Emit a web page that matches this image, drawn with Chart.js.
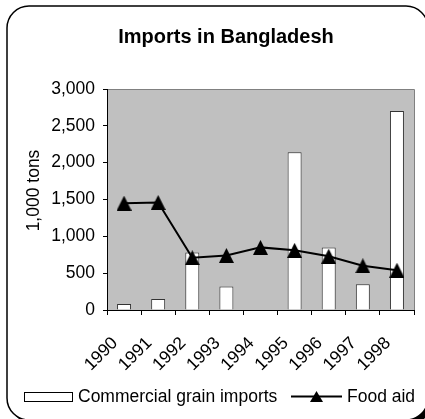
<!DOCTYPE html>
<html>
<head>
<meta charset="utf-8">
<title>Imports in Bangladesh</title>
<script src="https://cdn.jsdelivr.net/npm/chart.js@4"></script>
<style>
    html, body { margin: 0; padding: 0; background: #fff; }
    canvas { display: block; }
</style>
</head>
<body>
<canvas id="importsChart" width="425" height="419"></canvas>
<script>
// Chart data (1,000 tons)
const years = ['1990', '1991', '1992', '1993', '1994', '1995', '1996', '1997', '1998'];
const commercialImports = [80, 150, 780, 320, 0, 2140, 850, 350, 2700];
const foodAid = [1450, 1460, 710, 740, 850, 810, 730, 600, 540];
const yTicks = [0, 500, 1000, 1500, 2000, 2500, 3000];

const FONT = "'Liberation Sans', Arial, sans-serif";
Chart.defaults.font.family = FONT;
Chart.defaults.color = '#000';

// Excel style triangle marker (bounding box centred on the point)
function makeTriangle(w, h) {
    const c = document.createElement('canvas');
    c.width = w;
    c.height = h;
    const g = c.getContext('2d');
    g.fillStyle = '#000';
    g.beginPath();
    g.moveTo(w / 2, 0);
    g.lineTo(w, h);
    g.lineTo(0, h);
    g.closePath();
    g.fill();
    return c;
}
const triangleMarker = makeTriangle(15, 15);

function roundRectPath(ctx, x, y, w, h, r) {
    ctx.beginPath();
    ctx.moveTo(x + r, y);
    ctx.lineTo(x + w - r, y);
    ctx.arcTo(x + w, y, x + w, y + r, r);
    ctx.lineTo(x + w, y + h - r);
    ctx.arcTo(x + w, y + h, x + w - r, y + h, r);
    ctx.lineTo(x + r, y + h);
    ctx.arcTo(x, y + h, x, y + h - r, r);
    ctx.lineTo(x, y + r);
    ctx.arcTo(x, y, x + r, y, r);
    ctx.closePath();
}

// Frame, grey plot area, titles and legend
const decorations = {
    id: 'decorations',
    beforeDraw(chart) {
        const ctx = chart.ctx;
        const area = chart.chartArea;
        ctx.save();
        // shadow + rounded frame
        roundRectPath(ctx, 11, 10, 421, 414, 22);
        ctx.fillStyle = '#000';
        ctx.fill();
        roundRectPath(ctx, 7, 6, 421, 414, 22);
        ctx.fillStyle = '#fff';
        ctx.fill();
        ctx.lineWidth = 1.5;
        ctx.strokeStyle = '#000';
        ctx.stroke();

        // plot area
        ctx.fillStyle = '#c0c0c0';
        ctx.fillRect(area.left, area.top, area.right - area.left, area.bottom - area.top);
        ctx.strokeStyle = '#808080';
        ctx.lineWidth = 1;
        ctx.beginPath();
        ctx.moveTo(area.left, area.top + 0.5);
        ctx.lineTo(area.right + 0.5, area.top + 0.5);
        ctx.lineTo(area.right + 0.5, area.bottom);
        ctx.stroke();
        ctx.restore();
    },
    afterDraw(chart) {
        const ctx = chart.ctx;
        ctx.save();
        ctx.fillStyle = '#000';

        // chart title
        ctx.font = 'bold 20px ' + FONT;
        ctx.textAlign = 'center';
        ctx.textBaseline = 'alphabetic';
        ctx.fillText('Imports in Bangladesh', 226, 43);

        // y axis title
        ctx.save();
        ctx.translate(38.5, 190.5);
        ctx.rotate(-Math.PI / 2);
        ctx.font = '17.5px ' + FONT;
        ctx.fillText('1,000 tons', 0, 0);
        ctx.restore();

        // legend
        ctx.font = '17.5px ' + FONT;
        ctx.textAlign = 'left';
        ctx.fillStyle = '#fff';
        ctx.fillRect(24.5, 392.5, 48, 9);
        ctx.strokeStyle = '#000';
        ctx.lineWidth = 1;
        ctx.strokeRect(24.5, 392.5, 48, 9);
        ctx.fillStyle = '#000';
        ctx.fillText(chart.data.datasets[1].label, 78, 401.5);

        ctx.lineWidth = 2;
        ctx.beginPath();
        ctx.moveTo(291, 396.5);
        ctx.lineTo(342, 396.5);
        ctx.stroke();
        ctx.drawImage(makeTriangle(13, 11), 310, 391);
        ctx.fillText(chart.data.datasets[0].label, 347, 401.5);
        ctx.restore();
    }
};

const ctx = document.getElementById('importsChart');
new Chart(ctx, {
    data: {
        labels: years,
        datasets: [
            {
                type: 'line',
                label: 'Food aid',
                data: foodAid,
                order: 1,
                borderColor: '#000',
                borderWidth: 2,
                tension: 0,
                pointStyle: triangleMarker,
                pointRadius: 7,
                pointBackgroundColor: '#000',
                pointBorderColor: '#000'
            },
            {
                type: 'bar',
                label: 'Commercial grain imports',
                data: commercialImports,
                order: 2,
                backgroundColor: '#fff',
                borderColor: '#333',
                borderWidth: 1,
                barPercentage: 0.41,
                categoryPercentage: 1
            }
        ]
    },
    options: {
        responsive: false,
        animation: false,
        layout: {
            padding: { top: 89, right: 11, bottom: 0, left: 0 }
        },
        plugins: {
            legend: { display: false },
            title: { display: false },
            tooltip: { enabled: false }
        },
        scales: {
            x: {
                offset: true,
                grid: {
                    offset: true,
                    drawOnChartArea: false,
                    tickLength: 5,
                    color: '#000'
                },
                border: { color: '#000', width: 1 },
                ticks: {
                    minRotation: 45,
                    maxRotation: 45,
                    labelOffset: -9,
                    padding: 18,
                    font: { size: 17.5 }
                },
                afterFit: (scale) => {
                    scale.height = 109;
                    // rotated labels must not narrow the plot area
                    scale.paddingLeft = 0;
                    scale.paddingRight = 0;
                }
            },
            y: {
                min: 0,
                max: 3000,
                grid: {
                    drawOnChartArea: false,
                    tickLength: 4,
                    color: '#000'
                },
                border: { color: '#000', width: 1 },
                ticks: {
                    padding: 8,
                    font: { size: 17.5 },
                    callback: (value) => value.toLocaleString('en-US')
                },
                afterBuildTicks: (scale) => {
                    scale.ticks = yTicks.map(v => ({ value: v }));
                },
                afterFit: (scale) => { scale.width = 107; }
            }
        }
    },
    plugins: [decorations]
});
</script>
</body>
</html>
